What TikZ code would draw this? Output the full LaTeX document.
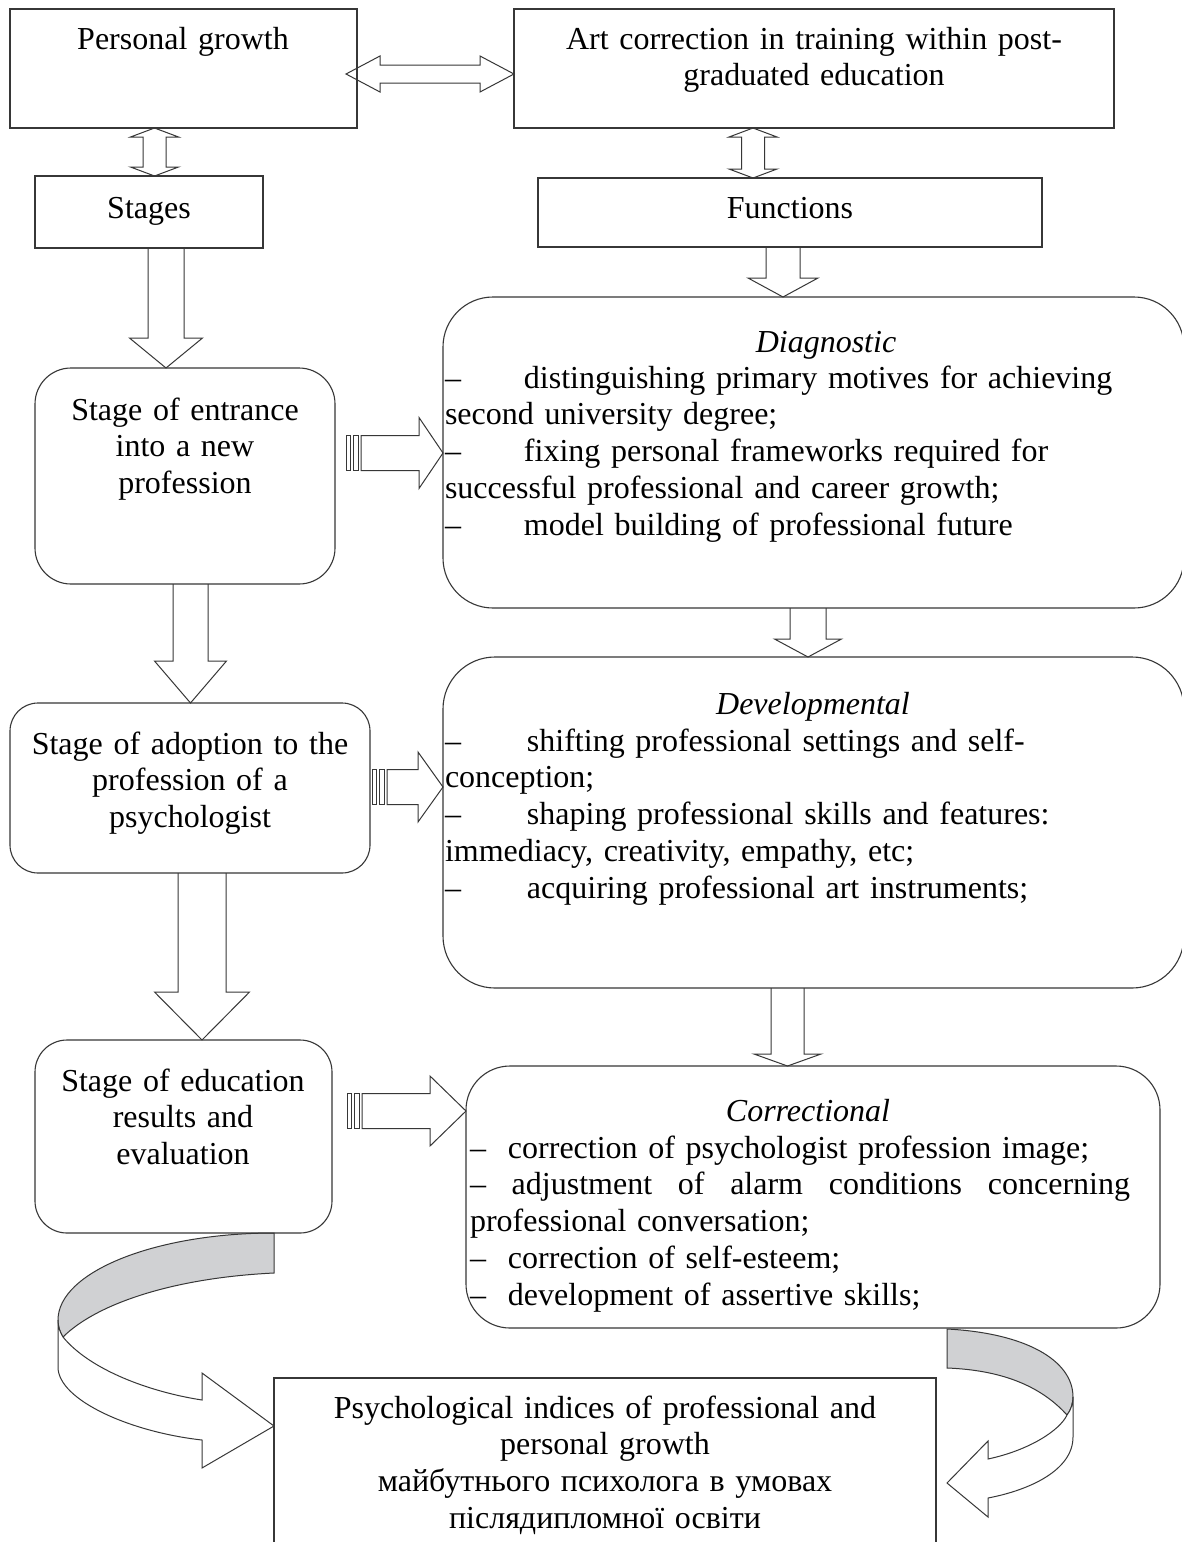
\documentclass[tikz,border=0pt]{standalone}
\usepackage{fontspec}
\setmainfont{Liberation Serif}
\usetikzlibrary{fit,calc,backgrounds}
\definecolor{lc}{RGB}{55,55,55}
\definecolor{bandgray}{RGB}{208,209,211}

\newcommand\bdown[6]{% #1 x, #2 upper node, #3 lower node, #4 shaft half, #5 head half, #6 head length
  \coordinate (tmpx) at (#1,0);
  \path (tmpx |- #2.south) coordinate (bdA) (tmpx |- #3.north) coordinate (bdB);
  \draw[blockarrow] ($(bdA)+(-#4,0)$) -- ($(bdB)+(-#4,-#6)$) -- ($(bdB)+(-#5,-#6)$) -- (bdB)
    -- ($(bdB)+(#5,-#6)$) -- ($(bdB)+(#4,-#6)$) -- ($(bdA)+(#4,0)$);
}
\newcommand\bstripe[7]{% #1 y, #2 left node, #3 right node, #4 gap, #5 shaft half, #6 head half, #7 head length
  \coordinate (tmpy) at (0,#1);
  \path (#2.east |- tmpy) coordinate (bsA) (#3.west |- tmpy) coordinate (bsB);
  \draw[blockarrow] ($(bsA)+(#4,-#5)$) rectangle ($(bsA)+(#4+4,#5)$);
  \draw[blockarrow] ($(bsA)+(#4+7,-#5)$) rectangle ($(bsA)+(#4+12,#5)$);
  \draw[blockarrow] ($(bsA)+(#4+15,-#5)$) -- ($(bsB)+(-#7,-#5)$) -- ($(bsB)+(-#7,-#6)$) -- (bsB)
    -- ($(bsB)+(-#7,#6)$) -- ($(bsB)+(-#7,#5)$) -- ($(bsA)+(#4+15,#5)$) -- cycle;
}
\newcommand\bdoublev[6]{% #1 x, #2 upper node, #3 lower node, #4 shaft half, #5 head half, #6 head length
  \coordinate (tmpx) at (#1,0);
  \path (tmpx |- #2.south) coordinate (dvA) (tmpx |- #3.north) coordinate (dvB);
  \draw[blockarrow] (dvA) -- ($(dvA)+(#5,#6)$) -- ($(dvA)+(#4,#6)$) -- ($(dvB)+(#4,-#6)$)
    -- ($(dvB)+(#5,-#6)$) -- (dvB) -- ($(dvB)+(-#5,-#6)$) -- ($(dvB)+(-#4,-#6)$)
    -- ($(dvA)+(-#4,#6)$) -- ($(dvA)+(-#5,#6)$) -- cycle;
}

\begin{document}
\begin{tikzpicture}[x=1pt,y=-1pt,
  box/.style={draw=lc, line width=1.1pt, inner sep=0pt, outer sep=0pt, rectangle},
  txt/.style={inner sep=0pt, outer sep=0pt, anchor=base, align=center, text width=#1,
    font=\fontsize{32}{36.8}\selectfont},
  txt/.default=700pt,
  ttl/.style={inner sep=0pt, outer sep=0pt, anchor=base, font=\fontsize{32}{36.8}\selectfont\itshape},
  blockarrow/.style={draw=lc, line width=1pt, fill=white, line join=miter},
  band/.style={draw=lc, line width=1pt, fill=bandgray},
]
\useasboundingbox (0,0) rectangle (1182,1542);

% boxes
\node[box, fit={(10,9)(357,128)}] (pg) {};
\node[box, fit={(514,9)(1114,128)}] (art) {};
\node[box, fit={(35,176)(263,248)}] (stages) {};
\node[box, fit={(538,178)(1042,247)}] (func) {};
\node[box, rounded corners=36pt, fit={(35,368)(335,584)}] (s1) {};
\node[box, rounded corners=50pt, fit={(443,297)(1184,608)}] (diag) {};
\node[box, rounded corners=28pt, fit={(10,703)(370,873)}] (s2) {};
\node[box, rounded corners=52pt, fit={(443,657)(1184,988)}] (dev) {};
\node[box, rounded corners=32pt, fit={(35,1040)(332,1233)}] (s3) {};
\node[box, rounded corners=44pt, fit={(466,1066)(1160,1328)}] (corr) {};
\node[box, fit={(274,1378)(936,1570)}] (res) {};

% texts
\node[txt] (tpg) at (183,49) {Personal growth};
\node[txt] (tart) at (814,49) {Art correction in training within post-\\graduated education};
\node[txt] (tst) at (149,218) {Stages};
\node[txt] (tfn) at (790,218) {Functions};
\node[txt] (ts1) at (185,420) {Stage of entrance\\into a new\\profession};
\node[txt] (ts2) at (190,754) {Stage of adoption to the\\profession of a\\psychologist};
\node[txt] (ts3) at (183,1091) {Stage of education\\results and\\evaluation};
\node[txt] (tres) at (605,1418) {Psychological indices of professional and\\personal growth\\майбутнього психолога в умовах\\післядипломної освіти};

\node[ttl] (tdiag) at (826,352) {Diagnostic};
\node[txt=740pt, align=left, anchor=base west] (bdiag) at (445,388)
  {\makebox[79pt][l]{–}distinguishing primary motives for achieving\\
   second university degree;\\
   \makebox[79pt][l]{–}fixing personal frameworks required for\\
   successful professional and career growth;\\
   \makebox[79pt][l]{–}model building of professional future};

\node[ttl] (tdev) at (813,714) {Developmental};
\node[txt=740pt, align=left, anchor=base west] (bdev) at (445,751)
  {\makebox[82pt][l]{–}shifting professional settings and self-\\
   conception;\\
   \makebox[82pt][l]{–}shaping professional skills and features:\\
   immediacy, creativity, empathy, etc;\\
   \makebox[82pt][l]{–}acquiring professional art instruments;};

\node[ttl] (tcorr) at (808,1121) {Correctional};
\node[txt=700pt, align=left, anchor=base west] (bcorr) at (470,1158)
  {\makebox[38pt][l]{–}correction of psychologist profession image;\\
   \makebox[660pt][l]{–\hfill adjustment\hfill of\hfill alarm\hfill conditions\hfill concerning}\\
   professional conversation;\\
   \makebox[38pt][l]{–}correction of self-esteem;\\
   \makebox[38pt][l]{–}development of assertive skills;};

% connectors (behind the boxes)
\begin{scope}[on background layer]
  \fill[white] (0,0) rectangle (1182,1542);
  % horizontal double arrow
  \coordinate (ty) at (0,74);
  \path ($(pg.east |- ty)+(-11,0)$) coordinate (hA) (art.west |- ty) coordinate (hB);
  \draw[blockarrow] (hA) -- ($(hA)+(34,-18)$) -- ($(hA)+(34,-9)$) -- ($(hB)+(-34,-9)$)
    -- ($(hB)+(-34,-18)$) -- (hB) -- ($(hB)+(-34,18)$) -- ($(hB)+(-34,9)$)
    -- ($(hA)+(34,9)$) -- ($(hA)+(34,18)$) -- cycle;
  % vertical double arrows
  \bdoublev{154.5}{pg}{stages}{11.5}{24}{9}
  \bdoublev{753}{art}{func}{11.5}{24}{9}
  % down arrows
  \bdown{166}{stages}{s1}{18}{36.5}{30}
  \bdown{783}{func}{diag}{17}{35}{19}
  \bdown{190.5}{s1}{s2}{17.5}{36}{42}
  \bdown{808}{diag}{dev}{18}{33.5}{18}
  \bdown{202}{s2}{s3}{24}{47.5}{48}
  \bdown{787.5}{dev}{corr}{16.5}{33.5}{12}
  % striped arrows
  \bstripe{453}{s1}{diag}{11}{17.5}{35.5}{24}
  \bstripe{787}{s2}{dev}{2}{17.5}{35}{25}
  \bstripe{1111}{s3}{corr}{15}{17.5}{35}{36}
  % left curved arrow
  \draw[band] (274,1233) .. controls (155,1233) and (58,1272) .. (58,1320)
    .. controls (58,1327) and (60,1332) .. (63,1337)
    .. controls (95,1305) and (170,1278) .. (274,1273) -- cycle;
  \draw[blockarrow] (58,1320) -- (58,1367) .. controls (58,1400) and (130,1432) .. (202,1440)
    -- (202,1468) -- (274,1426) -- (202,1373) -- (202,1400)
    .. controls (150,1392) and (90,1370) .. (63,1337)
    .. controls (60,1332) and (58,1327) .. (58,1320) -- cycle;
  % right curved arrow
  \draw[band] (947,1329) .. controls (1025,1333) and (1073,1360) .. (1073,1397)
    .. controls (1073,1403) and (1071,1410) .. (1067,1415)
    .. controls (1040,1385) and (1000,1370) .. (947,1368) -- cycle;
  \draw[blockarrow] (1073,1397) -- (1073,1437) .. controls (1073,1470) and (1030,1490) .. (988,1498)
    -- (988,1517) -- (947,1483) -- (988,1441) -- (988,1459)
    .. controls (1030,1450) and (1060,1430) .. (1067,1415)
    .. controls (1071,1410) and (1073,1403) .. (1073,1397) -- cycle;
\end{scope}
\end{tikzpicture}
\end{document}
